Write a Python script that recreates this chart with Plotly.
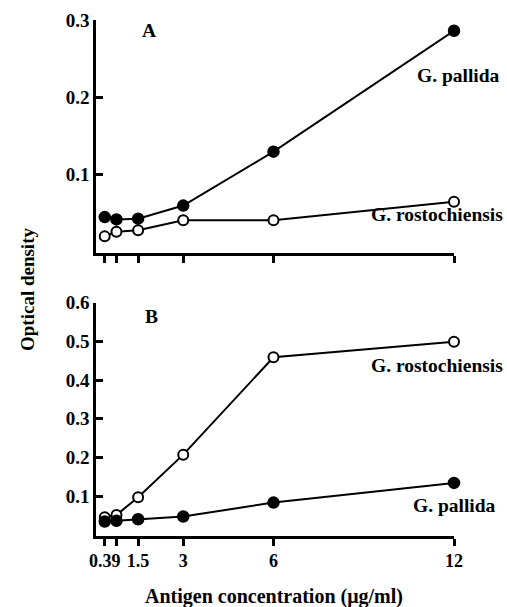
import plotly.graph_objects as go

conc = [0.39, 0.78, 1.5, 3, 6, 12]
tick_text_b = ["0.39", "", "1.5", "3", "6", "12"]
a_pallida = [0.044, 0.041, 0.042, 0.059, 0.129, 0.286]
a_rosto = [0.019, 0.025, 0.027, 0.040, 0.040, 0.064]
b_rosto = [0.045, 0.051, 0.097, 0.207, 0.459, 0.499]
b_pallida = [0.034, 0.036, 0.040, 0.047, 0.083, 0.134]

W, H = 507, 607
FONT = "Liberation Serif"

def px(x):
    return x / W

def py(y):
    return 1 - y / H

filled = dict(size=11, color="black", line=dict(color="black", width=1.5))
hollow = dict(size=10, color="white", line=dict(color="black", width=2))
line = dict(color="black", width=2)

fig = go.Figure()
fig.add_trace(go.Scatter(x=conc, y=a_pallida, mode="lines+markers", marker=filled, line=line, xaxis="x", yaxis="y", cliponaxis=False))
fig.add_trace(go.Scatter(x=conc, y=a_rosto, mode="lines+markers", marker=hollow, line=line, xaxis="x", yaxis="y", cliponaxis=False))
fig.add_trace(go.Scatter(x=conc, y=b_rosto, mode="lines+markers", marker=hollow, line=line, xaxis="x2", yaxis="y2", cliponaxis=False))
fig.add_trace(go.Scatter(x=conc, y=b_pallida, mode="lines+markers", marker=filled, line=line, xaxis="x2", yaxis="y2", cliponaxis=False))

tickfont = dict(family=FONT, size=19, color="black", weight="bold")
xtickfont = dict(family=FONT, size=18, color="black", weight="bold")
xdom = [px(96), px(454)]
common_x = dict(domain=xdom, range=[0.1, 12.0], showgrid=False, zeroline=False,
                showline=True, linecolor="black", linewidth=2.5, automargin=False, tickangle=0,
                tickvals=conc, ticks="outside", ticklen=7, tickwidth=2.5, tickcolor="black",
                tickfont=xtickfont)
common_y = dict(showgrid=False, zeroline=False, showline=True, linecolor="black", linewidth=2.5,
                automargin=False,
                ticks="inside", ticklen=7, tickwidth=2.5, tickcolor="black", tickfont=tickfont)

fig.update_layout(
    width=W, height=H, margin=dict(l=0, r=0, t=0, b=0),
    paper_bgcolor="white", plot_bgcolor="white", showlegend=False,
    font=dict(family=FONT, color="black", weight="bold"),
    xaxis=dict(**common_x, anchor="y", showticklabels=False),
    yaxis=dict(**common_y, domain=[py(253), py(20)], range=[-0.0026, 0.3],
               tickvals=[0.1, 0.2, 0.3], ticktext=["0.1", "0.2", "0.3"], anchor="x"),
    xaxis2=dict(**common_x, anchor="y2", ticktext=tick_text_b),
    yaxis2=dict(**common_y, domain=[py(536), py(302.7)], range=[-0.0034, 0.6],
                tickvals=[0.1, 0.2, 0.3, 0.4, 0.5, 0.6],
                ticktext=["0.1", "0.2", "0.3", "0.4", "0.5", "0.6"], anchor="x2"),
)

def ann(text, x, y, size=19.5, angle=0):
    fig.add_annotation(text=text, x=px(x), y=py(y), xref="paper", yref="paper",
                       xanchor="center", yanchor="middle", showarrow=False, textangle=angle,
                       font=dict(family=FONT, size=size, color="black", weight="bold"))

ann("A", 149, 30)
ann("B", 151, 317)
ann("G. pallida", 458, 76)
ann("G. rostochiensis", 437, 215)
ann("G. rostochiensis", 437, 365)
ann("G. pallida", 454, 505)
ann("Optical density", 27, 290, size=19, angle=-90)
ann("Antigen concentration (μg/ml)", 274, 596, size=20)

fig.write_html("out.html")
